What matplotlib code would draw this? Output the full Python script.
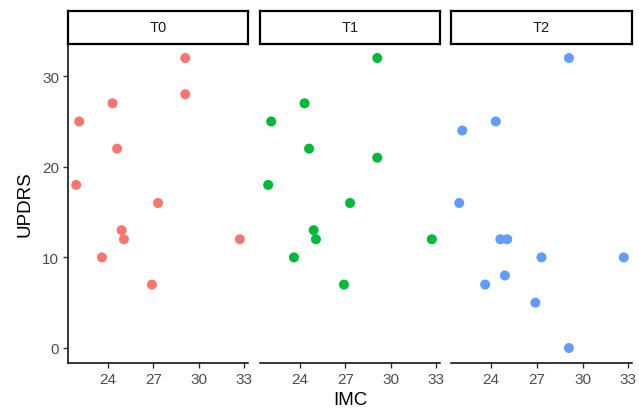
import numpy as np
import matplotlib
matplotlib.use('Agg')
import matplotlib.pyplot as plt

plt.rcParams['font.family'] = ['Liberation Sans', 'DejaVu Sans']

tiempos = ['T0', 'T1', 'T2']
colores = ['#F8766D', '#00BA38', '#619CFF']

imc = [21.9, 22.1, 23.6, 24.3, 24.6, 24.9, 25.05, 26.9, 27.3, 29.1, 29.1, 32.7]
updrs_t0 = [18, 25, 10, 27, 22, 13, 12, 7, 16, 32, 28, 12]
updrs_t1 = [18, 25, 10, 27, 22, 13, 12, 7, 16, 32, 21, 12]
updrs_t2 = [16, 24, 7, 25, 12, 8, 12, 5, 10, 32, 0, 10]
updrs = [updrs_t0, updrs_t1, updrs_t2]

W, H = 639, 414
fig = plt.figure(figsize=(W / 100, H / 100), dpi=100)

# limites con expansion del 5% como ggplot
todos_y = np.concatenate(updrs)
xr = max(imc) - min(imc)
yr = todos_y.max() - todos_y.min()
xlim = (min(imc) - 0.05 * xr, max(imc) + 0.05 * xr)
ylim = (todos_y.min() - 0.05 * yr, todos_y.max() + 0.05 * yr)

paneles_x = [(68, 248), (260, 440), (451, 632)]
y_top, y_bot = 44.5, 363.5
strip_top = 12

for i in range(3):
    x0, x1 = paneles_x[i]
    ax = fig.add_axes([x0 / W, 1 - y_bot / H, (x1 - x0) / W, (y_bot - y_top) / H])
    ax.scatter(imc, updrs[i], s=52, color=colores[i], edgecolors='none', zorder=3)
    ax.set_xlim(xlim)
    ax.set_ylim(ylim)
    ax.set_xticks([24, 27, 30, 33])
    ax.set_yticks([0, 10, 20, 30])
    for s in ['top', 'right']:
        ax.spines[s].set_visible(False)
    ax.spines['bottom'].set_linewidth(1.1)
    ax.spines['left'].set_linewidth(1.1)
    ax.tick_params(axis='both', length=3.5, width=1.0, color='#333333',
                   labelsize=11, labelcolor='#4D4D4D', pad=3)
    if i > 0:
        ax.spines['left'].set_visible(False)
        ax.tick_params(axis='y', left=False, labelleft=False)

    # caja del facet
    st = fig.add_axes([x0 / W, 1 - y_top / H, (x1 - x0) / W, (y_top - strip_top) / H])
    st.set_xticks([])
    st.set_yticks([])
    for s in st.spines.values():
        s.set_linewidth(1.6)
    st.text(0.5, 0.5, tiempos[i], ha='center', va='center', fontsize=10.5,
            color='#1A1A1A', transform=st.transAxes)

fig.text(350 / W, 1 - 401 / H, 'IMC', ha='center', va='center', fontsize=13.5)
fig.text(25 / W, 1 - 204 / H, 'UPDRS', ha='center', va='center', fontsize=13.5,
         rotation=90)

plt.savefig('out.png', dpi=100)
